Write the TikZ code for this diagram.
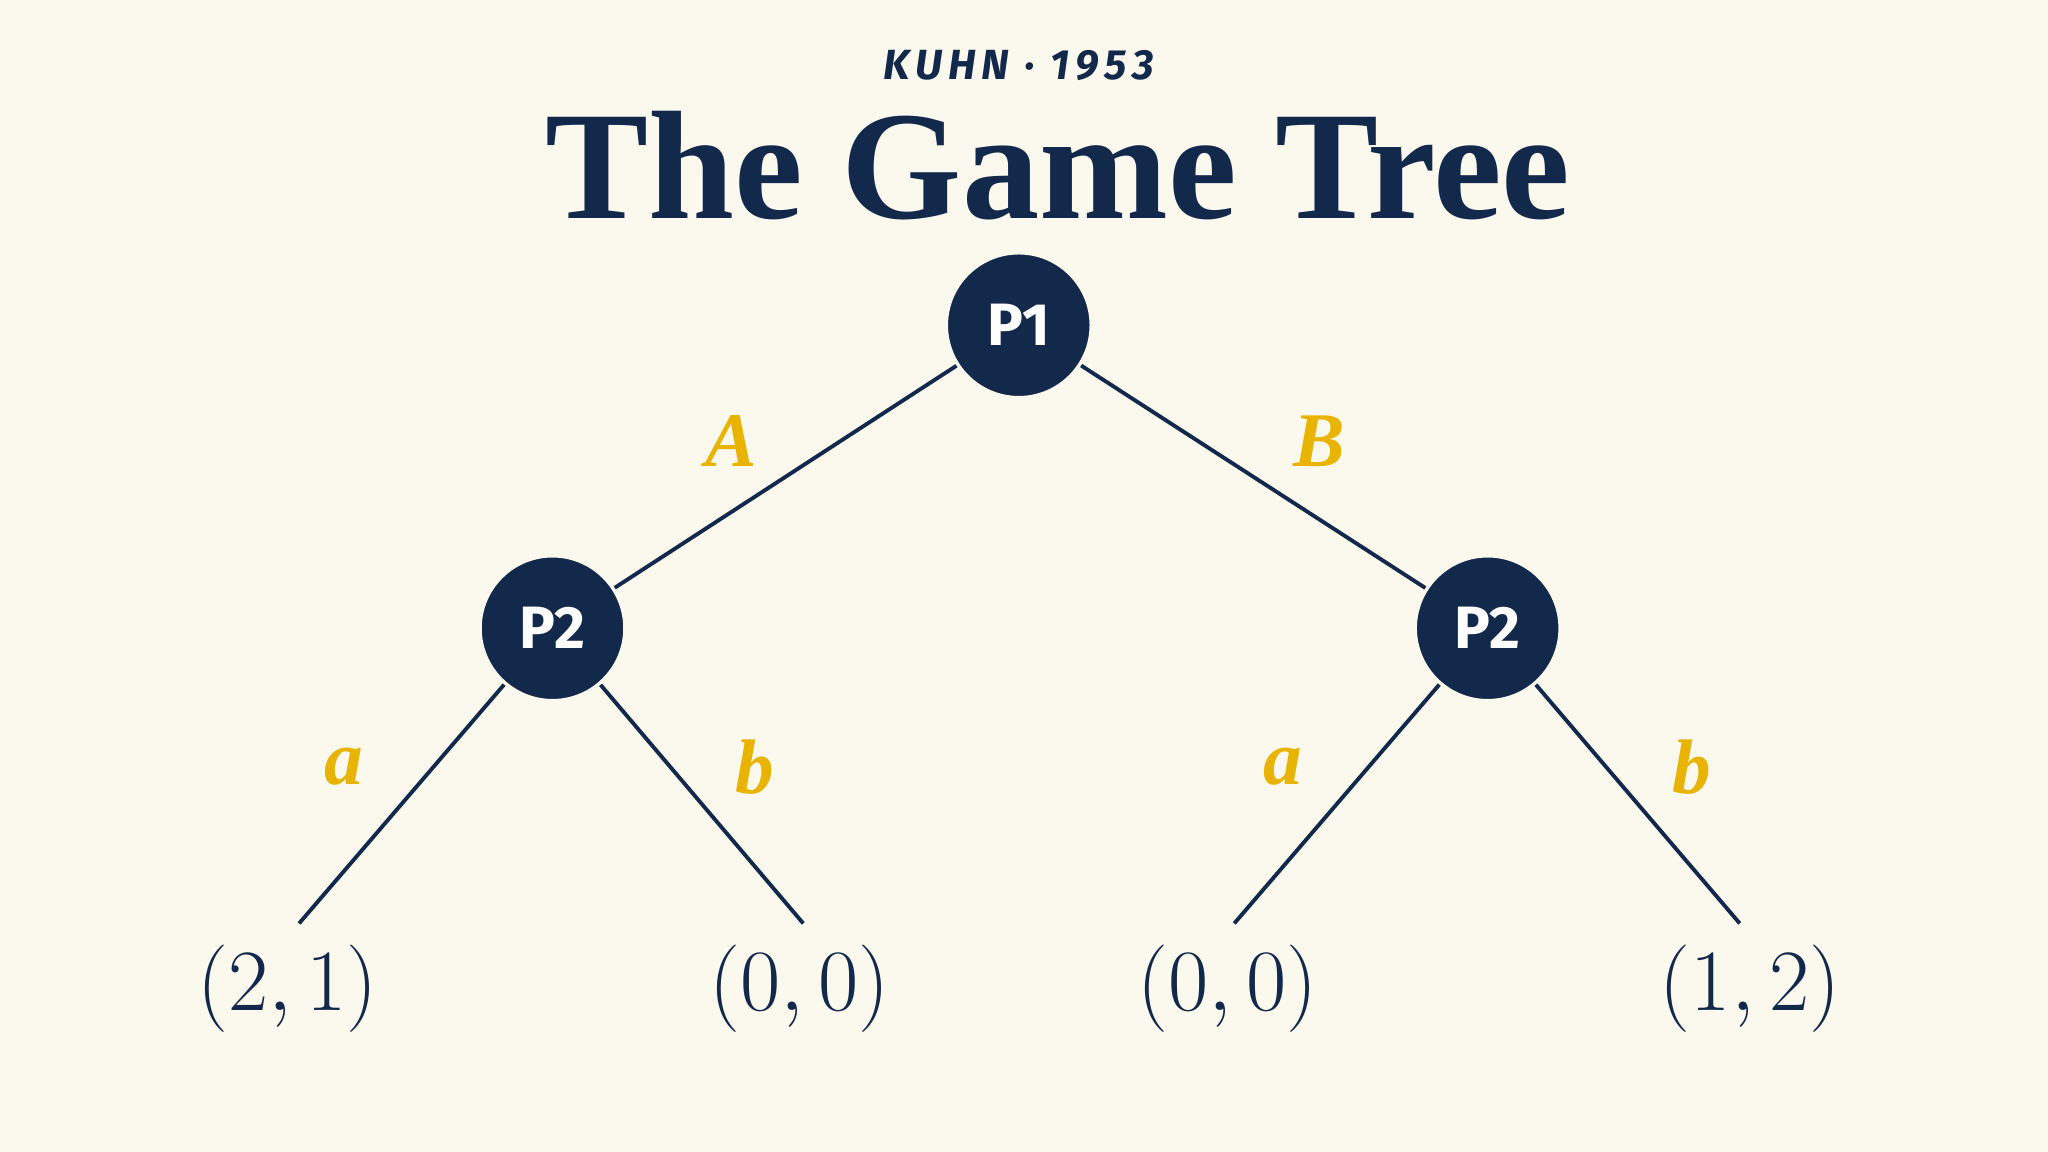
\documentclass[tikz,border=0pt]{standalone}
\usepackage{fontspec}
\setmainfont{Liberation Serif}
\newfontfamily\labelfont{Fira Sans}
\usepackage{xcolor}
\definecolor{paper}{HTML}{FBF8EE}
\definecolor{navy}{HTML}{13294B}
\definecolor{gold}{HTML}{E8B400}
\tikzset{
	player/.style={circle,fill=navy,draw=paper,line width=1pt,minimum size=1.45cm,inner sep=0pt,text=white,font=\labelfont\bfseries\fontsize{17}{17}\selectfont},
	move/.style={text=gold,font=\bfseries\itshape\fontsize{22}{22}\selectfont},
	payoff/.style={text=navy,font=\fontsize{28}{28}\selectfont},
	branch/.style={draw=navy,line width=1.1pt}
}
\begin{document}
\begin{tikzpicture}[x=0.013061cm,y=-0.013061cm]
	\fill[paper] (0,0) rectangle (1568,882);
	\useasboundingbox (0,0) rectangle (1568,882);
	
	% heading
	\node[text=navy,font=\labelfont\bfseries\itshape\fontsize{12}{12}\selectfont] (sub) at (780,50) {\addfontfeature{LetterSpace=14}KUHN · 1953};
	\node[text=navy,font=\bfseries\fontsize{44}{44}\selectfont] (title) at (810,127) {The Game Tree};
	
	% players
	\node[player] (R) at (780,249) {P1};
	\node[player] (L) at (423,481) {P2};
	\node[player] (Q) at (1139,481) {P2};
	\draw[branch] (R)--(L);
	\draw[branch] (R)--(Q);
	
	% leaves
	\foreach \x/\n/\p/\v in
	{229/1/L/{(2,1)}, 615/2/L/{(0,0)}, 945/3/Q/{(0,0)}, 1332/4/Q/{(1,2)}}{
		\coordinate (t\n) at (\x,707);
		\draw[branch] (\p)--(t\n);
	}
	\foreach \x/\n/\v in
	{220/1/{(2,1)}, 612/2/{(0,0)}, 940/3/{(0,0)}, 1340/4/{(1,2)}}{
		\node[payoff] (v\n) at (\x,757) {$\v$};
	}
	
	% moves
	\foreach \x/\y/\m in
	{560/338/A, 1010/338/B, 263/587/a, 578/587/b, 982/587/a, 1295/587/b}{
		\node[move] at (\x,\y) {\m};
	}
\end{tikzpicture}
\end{document}
